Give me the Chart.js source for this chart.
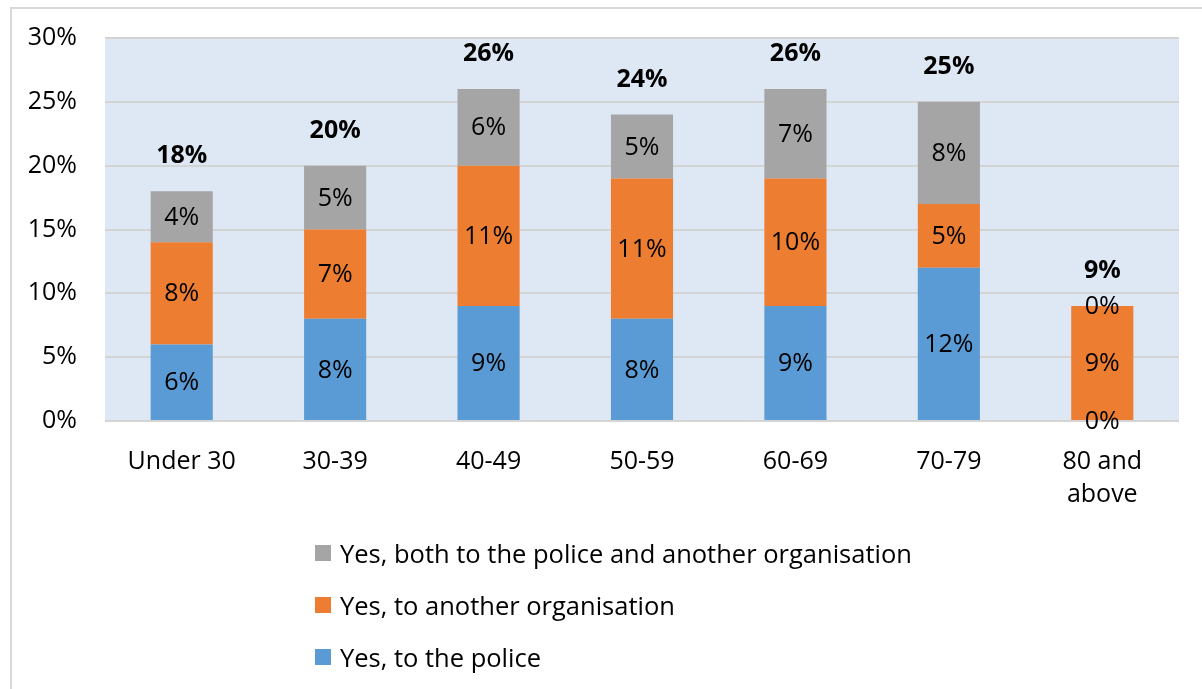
<!DOCTYPE html>
<html><head><meta charset="utf-8">
<script src="https://cdn.jsdelivr.net/npm/chart.js@4/dist/chart.umd.min.js"></script>
<style>
html,body{margin:0;padding:0;background:#fff;overflow:hidden;width:1202px;height:689px;}
#frame{position:absolute;left:10px;top:7px;width:1220px;height:720px;border:2px solid #D9D9D9;box-sizing:border-box;}
#wrap{position:absolute;left:0;top:-5px;width:1202px;height:694px;}
#legend{position:absolute;left:315px;top:527px;font-family:"Open Sans",sans-serif;font-size:25.5px;color:#000;}
.li{display:flex;align-items:center;height:52px;margin-top:0;}
.sw{width:16px;height:16px;margin-right:9px;flex:none;}
</style></head>
<body>
<div id="frame"></div>
<div id="wrap"><canvas id="c" width="1202" height="694"></canvas></div>
<div id="legend"></div>
<script>
const categories = [['Under 30'], ['30-39'], ['40-49'], ['50-59'], ['60-69'], ['70-79'], ['80 and', 'above']];
const police = [6, 8, 9, 8, 9, 12, 0];
const otherOrg = [8, 7, 11, 11, 10, 5, 9];
const both = [4, 5, 6, 5, 7, 8, 0];
const totals = [18, 20, 26, 24, 26, 25, 9];
const yTicks = [0, 5, 10, 15, 20, 25, 30];

const FONT = '"Open Sans", sans-serif';

const bgPlugin = {
  id: 'bg',
  beforeDraw(chart) {
    const a = chart.chartArea, ctx = chart.ctx;
    ctx.save();
    ctx.fillStyle = '#DEE8F4';
    ctx.fillRect(a.left, a.top, a.right - a.left, a.bottom - a.top);
    ctx.restore();
  }
};
const labelPlugin = {
  id: 'lbl',
  afterDatasetsDraw(chart) {
    const ctx = chart.ctx;
    ctx.save();
    ctx.textAlign = 'center';
    ctx.textBaseline = 'middle';
    ctx.fillStyle = '#000';
    ctx.font = '25px ' + FONT;
    chart.data.datasets.forEach((ds, i) => {
      const meta = chart.getDatasetMeta(i);
      meta.data.forEach((bar, j) => {
        const y = (bar.y + bar.base) / 2;
        ctx.fillText(ds.data[j] + '%', bar.x, y + 1);
      });
    });
    ctx.font = 'bold 25px ' + FONT;
    const top = chart.getDatasetMeta(chart.data.datasets.length - 1);
    top.data.forEach((bar, j) => {
      ctx.fillText(totals[j] + '%', bar.x, bar.y - 35);
    });
    ctx.restore();
  }
};

const chart = new Chart(document.getElementById('c'), {
  type: 'bar',
  data: {
    labels: categories,
    datasets: [
      { label: 'Yes, to the police', data: police, backgroundColor: '#5B9BD5' },
      { label: 'Yes, to another organisation', data: otherOrg, backgroundColor: '#ED7D31' },
      { label: 'Yes, both to the police and another organisation', data: both, backgroundColor: '#A5A5A5' }
    ]
  },
  options: {
    responsive: false,
    animation: false,
    layout: { padding: { left: 0, right: 23, top: 0, bottom: 0 } },
    plugins: { legend: { display: false }, tooltip: { enabled: false } },
    datasets: { bar: { categoryPercentage: 1, barPercentage: 0.405 } },
    scales: {
      x: {
        stacked: true,
        grid: { display: false, drawTicks: false },
        border: { display: false },
        ticks: { color: '#000', font: { family: FONT, size: 25, lineHeight: 1.3 }, padding: 25, maxRotation: 0, autoSkip: false },
        afterFit(s) { s.height = 268; }
      },
      y: {
        stacked: true,
        min: 0, max: 30,
        afterBuildTicks(s) { s.ticks = yTicks.map(v => ({ value: v })); },
        ticks: { color: '#000', font: { family: FONT, size: 25 }, padding: 28, callback: v => v + '%' },
        grid: { color: '#D4D4D4', lineWidth: 2, drawTicks: false },
        border: { display: false },
        afterFit(s) { s.width = 105; }
      }
    }
  },
  plugins: [bgPlugin, labelPlugin]
});

const lg = document.getElementById('legend');
chart.data.datasets.slice().reverse().forEach(ds => {
  const d = document.createElement('div'); d.className = 'li';
  const s = document.createElement('span'); s.className = 'sw'; s.style.background = ds.backgroundColor;
  const t = document.createElement('span'); t.textContent = ds.label;
  d.appendChild(s); d.appendChild(t); lg.appendChild(d);
});
</script>
</body></html>
